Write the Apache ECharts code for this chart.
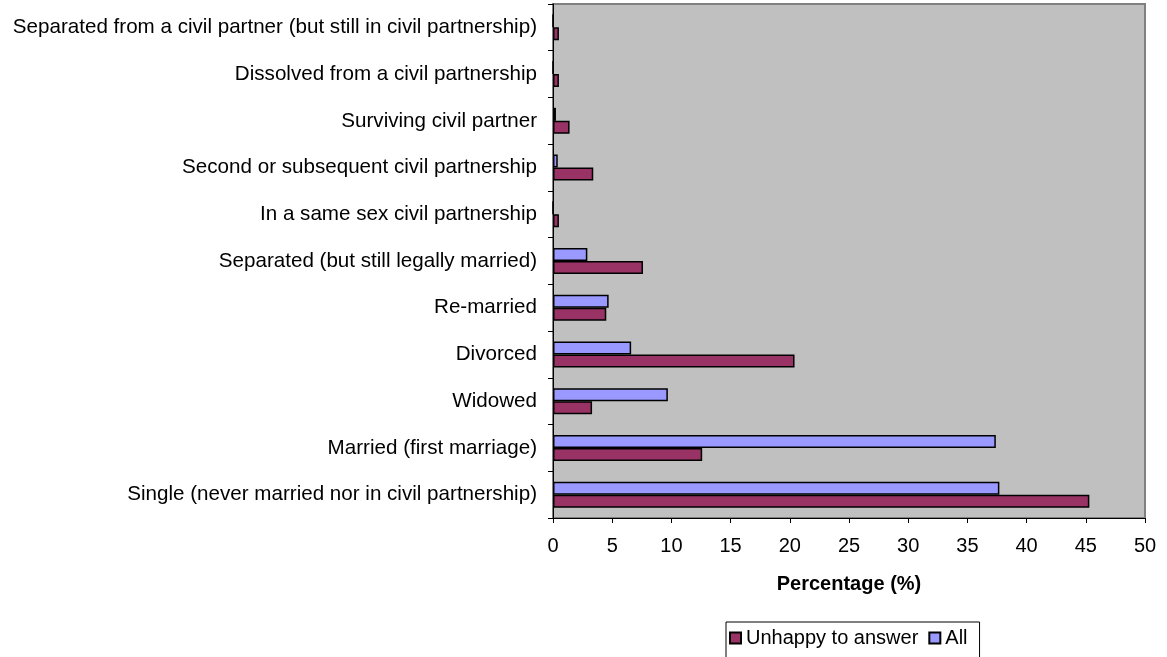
<!DOCTYPE html>
<html>
<head>
<meta charset="utf-8">
<script src="https://cdn.jsdelivr.net/npm/echarts@6/dist/echarts.min.js"></script>
<style>
  html, body { margin: 0; padding: 0; background: #fff; }
  #chart { width: 1167px; height: 657px; }
</style>
</head>
<body>
<div id="chart"></div>
<script>
// categories, bottom to top
const categories = [
  'Single (never married nor in civil partnership)',
  'Married (first marriage)',
  'Widowed',
  'Divorced',
  'Re-married',
  'Separated (but still legally married)',
  'In a same sex civil partnership',
  'Second or subsequent civil partnership',
  'Surviving civil partner',
  'Dissolved from a civil partnership',
  'Separated from a civil partner (but still in civil partnership)'
];
// values (%)
const unhappyValues = [45.3, 12.6, 3.3, 20.4, 4.5, 7.6, 0.5, 3.4, 1.4, 0.5, 0.5];
const allValues = [37.7, 37.4, 9.7, 6.6, 4.7, 2.9, 0, 0.4, 0.25, 0, 0];
const xTicks = { min: 0, max: 50, interval: 5 };

const chart = echarts.init(document.getElementById('chart'));
const font = 'Liberation Sans, Arial, sans-serif';

const option = {
  animation: false,
  textStyle: { fontFamily: font, color: '#000' },
  grid: {
    left: 553, top: 4, width: 592, height: 514,
    show: true,
    backgroundColor: '#C0C0C0',
    borderColor: '#808080',
    borderWidth: 2
  },
  legend: {
    data: ['Unhappy to answer', 'All'],
    left: 726, top: 622,
    orient: 'horizontal',
    borderColor: '#000',
    borderWidth: 1,
    padding: [6, 12, 30, 3],
    itemGap: 10,
    itemWidth: 11,
    itemHeight: 11,
    icon: 'rect',
    textStyle: { fontSize: 20, color: '#000', fontFamily: font }
  },
  xAxis: {
    type: 'value',
    min: xTicks.min, max: xTicks.max, interval: xTicks.interval,
    splitLine: { show: false },
    axisLine: { show: true, lineStyle: { color: '#000', width: 1 } },
    axisTick: { show: true, length: 5, lineStyle: { color: '#000' } },
    axisLabel: { fontSize: 20, color: '#000', margin: 18, fontFamily: font },
    name: 'Percentage (%)',
    nameLocation: 'middle',
    nameGap: 56,
    nameTextStyle: { fontSize: 20, fontWeight: 'bold', color: '#000', fontFamily: font }
  },
  yAxis: {
    type: 'category',
    data: categories,
    axisLine: { show: true, lineStyle: { color: '#000', width: 1 } },
    axisTick: { show: true, length: 5, lineStyle: { color: '#000' } },
    axisLabel: { fontSize: 20.6, color: '#000', margin: 16, fontFamily: font }
  },
  series: [
    {
      name: 'All',
      type: 'bar',
      data: allValues,
      barWidth: 13,
      barGap: '0%',
      itemStyle: { color: '#9999FF', borderColor: '#000', borderWidth: 1.5 }
    },
    {
      name: 'Unhappy to answer',
      type: 'bar',
      data: unhappyValues,
      barWidth: 13,
      barGap: '0%',
      itemStyle: { color: '#993366', borderColor: '#000', borderWidth: 1.5 }
    }
  ]
};
chart.setOption(option);
</script>
</body>
</html>
